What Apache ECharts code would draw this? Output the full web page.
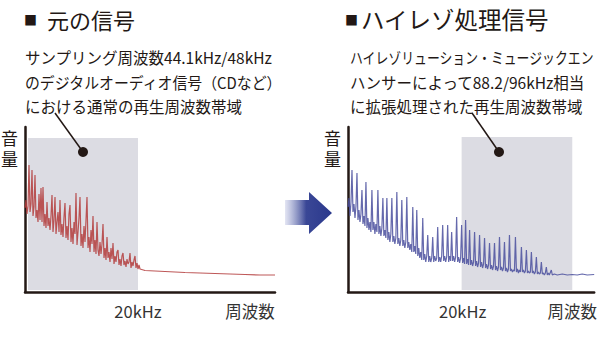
<!DOCTYPE html>
<html>
<head>
<meta charset="utf-8">
<script src="https://cdn.jsdelivr.net/npm/echarts@6/dist/echarts.min.js"></script>
<style>
  html, body { margin: 0; padding: 0; background: #fff; }
  #chart { width: 600px; height: 352px; }
</style>
</head>
<body>
<div id="chart"></div>
<script>
// spectrum of the original signal: [frequency, level] in arbitrary units
const originalSpectrum = [
  [0,84],[1,92],[2,78],[3,86],[4,127],[5,80],[6,88],[7,122],[8,76],[9,85],
  [10,117],[11,74],[12,82],[13,70],[14,98],[15,72],[16,104],[17,70],[18,105],[19,66],
  [20,78],[21,64],[22,90],[23,66],[24,74],[25,62],[26,76],[27,97],[28,60],[29,72],
  [30,95],[31,58],[32,70],[33,80],[34,60],[35,92],[36,57],[37,68],[38,55],[39,75],
  [40,89],[41,54],[42,66],[43,52],[44,78],[45,87],[46,50],[47,64],[48,48],[49,70],
  [50,58],[51,99],[52,47],[53,60],[54,74],[55,95],[56,46],[57,58],[58,44],[59,66],
  [60,50],[61,72],[62,95],[63,44],[64,55],[65,40],[66,62],[67,48],[68,76],[69,40],
  [70,52],[71,38],[72,70],[73,42],[74,36],[75,50],[76,38],[77,48],[78,68],[79,34],
  [80,44],[81,32],[82,55],[83,34],[84,40],[85,30],[86,44],[87,33],[88,49],[89,28],
  [90,36],[91,30],[92,40],[93,42],[94,27],[95,33],[96,26],[97,36],[98,39],[99,27],
  [100,31],[101,25],[102,33],[103,28],[104,30],[105,39],[106,24],[107,30],[108,26],[109,32],
  [110,36],[111,24],[112,29],[113,23],[114,27],[115,23],
  [120,21.5],[130,21],[140,20.5],[150,20],[160,19.5],[175,19],[190,18.5],[205,18],[220,17.5],[235,17],[250,17]
];

// spectrum after hi-res processing
const hiresSpectrum = [
  [0,85],[1,94],[2,76],[3,90],[4,122],[5,80],[6,88],[7,74],[8,86],[9,119],
  [10,72],[11,82],[12,70],[13,78],[14,102],[15,68],[16,76],[17,66],[18,110],[19,64],
  [20,74],[21,62],[22,70],[23,60],[24,102],[25,62],[26,70],[27,58],[28,68],[29,60],
  [30,102],[31,58],[32,66],[33,56],[34,64],[35,94],[36,56],[37,62],[38,54],[39,94],
  [40,52],[41,60],[42,50],[43,58],[44,94],[45,50],[46,56],[47,48],[48,54],[49,100],
  [50,48],[51,54],[52,46],[53,52],[54,92],[55,46],[56,52],[57,44],[58,50],[59,95],
  [60,44],[61,50],[62,42],[63,48],[64,40],[65,85],[66,40],[67,46],[68,38],[69,82],
  [70,36],[71,44],[72,34],[73,40],[74,32],[75,74],[76,32],[77,38],[78,30],[79,36],
  [80,57],[81,30],[82,36],[83,30],[84,34],[85,55],[86,30],[87,36],[88,31],[89,34],
  [90,65],[91,30],[92,35],[93,30],[94,36],[95,67],[96,31],[97,36],[98,30],[99,35],
  [100,67],[101,30],[102,36],[103,31],[104,60],[105,31],[106,36],[107,30],[108,35],[109,75],
  [110,30],[111,35],[112,29],[113,34],[114,67],[115,29],[116,34],[117,28],[118,72],[119,28],
  [120,33],[121,27],[122,62],[123,27],[124,32],[125,26],[126,30],[127,60],[128,26],[129,31],
  [130,25],[131,29],[132,57],[133,25],[134,30],[135,24],[136,28],[137,54],[138,24],[139,28],
  [140,23],[141,27],[142,49],[143,23],[144,27],[145,22],[146,26],[147,49],[148,22],[149,26],
  [150,21],[151,25],[152,55],[153,22],[154,25],[155,21],[156,24],[157,50],[158,21],[159,24],
  [160,20],[161,23],[162,57],[163,21],[164,23],[165,20],[166,22],[167,21],[168,55],[169,20],
  [170,23],[171,19],[172,22],[173,20],[174,45],[175,20],[176,22],[177,19],[178,21],[179,42],
  [180,19],[181,21],[182,19],[183,20],[184,40],[185,19],[186,21],[187,18],[188,20],[189,35],
  [190,18],[191,20],[192,18],[193,19],[194,30],[195,18],[196,19],[197,17],[198,19],[199,25],
  [200,17],[201,19],[202,17],[204,22],[205,17],[207,18],[210,17],[215,18],[220,17],[225,17.5],
  [230,17],[235,18],[240,17],[247,17.5]
];

// x axis label positions and texts
const leftLabelValues = [113, 225];
const rightLabelValues = [115, 225];
const axisLabelTexts = ['20kHz', '周波数'];

// shaded frequency bands [x0, y0, x1, y1]
const leftBand = [3, 2, 113, 154];
const rightBand = [114, 2, 225, 155];

const titles = ['元の信号', 'ハイレゾ処理信号'];
const leftNotes = [
  'サンプリング周波数44.1kHz/48kHz',
  'のデジタルオーディオ信号（CDなど）',
  'における通常の再生周波数帯域'
];
const rightNotes = [
  'ハイレゾリューション・ミュージックエン',
  'ハンサーによって88.2/96kHz相当',
  'に拡張処理された再生周波数帯域'
];

const FONT = '"Noto Sans CJK JP", "Noto Sans CJK SC", sans-serif';
const INK = '#231815';

const chart = echarts.init(document.getElementById('chart'), null, { renderer: 'svg' });

function xAxisFor(gridIndex, max, labelValues) {
  return {
    gridIndex: gridIndex,
    type: 'value',
    min: 0,
    max: max,
    axisLine: { show: true, lineStyle: { color: INK, width: 2.5 } },
    axisTick: { show: false },
    splitLine: { show: false },
    axisLabel: {
      customValues: labelValues,
      formatter: (v) => axisLabelTexts[labelValues.indexOf(v)] || '',
      color: '#333',
      fontFamily: FONT,
      fontSize: 16.5,
      margin: 11
    }
  };
}

function yAxisFor(gridIndex) {
  return {
    gridIndex: gridIndex,
    type: 'value',
    min: 0,
    max: 165,
    name: '音\n量',
    nameLocation: 'end',
    nameGap: 0,
    nameTextStyle: {
      align: 'right',
      verticalAlign: 'top',
      padding: [0, 7, 0, 0],
      fontFamily: FONT,
      fontSize: 17,
      lineHeight: 21,
      color: INK
    },
    axisLine: { show: true, lineStyle: { color: INK, width: 2.5 } },
    axisTick: { show: false },
    axisLabel: { show: false },
    splitLine: { show: false }
  };
}

function bandArea(b) {
  return {
    silent: true,
    itemStyle: { color: '#dcdce3' },
    data: [[{ coord: [b[0], b[1]] }, { coord: [b[2], b[3]] }]]
  };
}

function noteTexts(x, lines, scales) {
  return lines.map((t, i) => ({
    type: 'text',
    x: x,
    y: 57 + i * 24.5,
    scaleX: scales[i],
    z: 100,
    style: {
      text: t,
      font: '15.5px ' + FONT,
      fill: INK,
      verticalAlign: 'middle'
    }
  }));
}

const option = {
  backgroundColor: '#fff',
  animation: false,
  grid: [
    { left: 25, top: 127, width: 250, height: 165 },
    { left: 348, top: 127, width: 247, height: 165 }
  ],
  xAxis: [xAxisFor(0, 250, leftLabelValues), xAxisFor(1, 247, rightLabelValues)],
  yAxis: [yAxisFor(0), yAxisFor(1)],
  series: [
    {
      type: 'line',
      xAxisIndex: 0,
      yAxisIndex: 0,
      data: originalSpectrum,
      showSymbol: false,
      lineStyle: { color: '#b33b3b', width: 1.2, opacity: 0.85 },
      markArea: bandArea(leftBand),
      z: 3
    },
    {
      type: 'line',
      xAxisIndex: 1,
      yAxisIndex: 1,
      data: hiresSpectrum,
      showSymbol: false,
      lineStyle: { color: '#4a4f9e', width: 1.2, opacity: 0.85 },
      markArea: bandArea(rightBand),
      z: 3
    }
  ],
  graphic: [
    { type: 'text', x: 24, y: 19, z: 100, style: { text: '■', font: '13px ' + FONT, fill: INK, verticalAlign: 'middle' } },
    { type: 'text', x: 47, y: 19, z: 100, style: { text: titles[0], font: '22px ' + FONT, fill: INK, verticalAlign: 'middle' } },
    { type: 'text', x: 345, y: 19, z: 100, style: { text: '■', font: '13px ' + FONT, fill: INK, verticalAlign: 'middle' } },
    { type: 'text', x: 361, y: 19, z: 100, style: { text: titles[1], font: '23.5px ' + FONT, fill: INK, verticalAlign: 'middle' } },
    ...noteTexts(25, leftNotes, [1, 0.96, 1]),
    ...noteTexts(350, rightNotes, [0.83, 1, 1]),
    { type: 'line', z: 100, shape: { x1: 55, y1: 113, x2: 83, y2: 152 }, style: { stroke: INK, lineWidth: 1.5 } },
    { type: 'circle', z: 100, shape: { cx: 83, cy: 152, r: 5 }, style: { fill: INK } },
    { type: 'line', z: 100, shape: { x1: 472, y1: 113, x2: 499, y2: 152 }, style: { stroke: INK, lineWidth: 1.5 } },
    { type: 'circle', z: 100, shape: { cx: 499, cy: 152, r: 5 }, style: { fill: INK } },
    {
      type: 'polygon',
      z: 100,
      shape: { points: [[285, 200], [309, 200], [309, 192], [332, 213], [309, 234], [309, 225], [285, 225]] },
      style: {
        fill: new echarts.graphic.LinearGradient(0, 0, 1, 0, [
          { offset: 0, color: 'rgba(215,218,238,0.7)' },
          { offset: 0.45, color: '#3a4796' },
          { offset: 1, color: '#2a388c' }
        ])
      }
    }
  ]
};

chart.setOption(option);
</script>
</body>
</html>
